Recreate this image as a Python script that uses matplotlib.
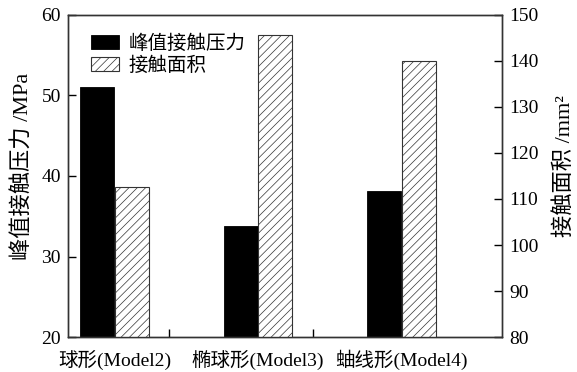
import matplotlib
matplotlib.use("Agg")
import matplotlib.pyplot as plt
import numpy as np

plt.rcParams['font.family'] = ['Liberation Serif', 'Noto Sans CJK SC']
plt.rcParams['hatch.linewidth'] = 0.5

categories = ['球形(Model2)', '椭球形(Model3)', '蚰线形(Model4)']
pressure = [51.0, 33.8, 38.1]      # MPa, left axis
area = [112.7, 145.7, 140.1]       # mm^2, right axis

fig = plt.figure(figsize=(5.77, 3.72), dpi=100)
ax = fig.add_axes([68/577, 1-337/372, (502-68)/577, (337-15)/372])
ax2 = ax.twinx()

x = np.arange(len(categories))
w = 0.235
off = 0.12
b1 = ax.bar(x - off, pressure, w, color='black', edgecolor='black', linewidth=0.6,
            label='峰值接触压力')
b2 = ax2.bar(x + off, area, w, color='white', edgecolor='#333333', linewidth=0.8,
             hatch='////', label='接触面积')

ax.set_xlim(-0.324, 2.70)
ax.set_ylim(20, 60)
ax2.set_ylim(80, 150)
ax.set_yticks([20, 30, 40, 50, 60])
ax2.set_yticks(range(80, 151, 10))
ax.set_xticks(x)
ax.set_xticklabels(categories, fontsize=14)
ax.set_xticks([0.38, 1.38], minor=True)
ax.tick_params(axis='x', which='major', length=0, pad=9)
ax.tick_params(axis='x', which='minor', direction='in', length=6, width=1)
ax.tick_params(axis='y', direction='in', length=6, width=1, labelsize=14, pad=5)
ax2.tick_params(axis='y', direction='in', length=6, width=1, labelsize=14, pad=5)

for a in (ax, ax2):
    for s in a.spines.values():
        s.set_color('#333333')
        s.set_linewidth(1.0)

ax.set_ylabel('峰值接触压力 /MPa', fontsize=16)
ax.yaxis.set_label_coords(-0.078, 0.53)
ax2.set_ylabel('接触面积 /mm²', fontsize=16)
ax2.yaxis.set_label_coords(1.122, 0.53)

ax.legend([b1, b2], ['峰值接触压力', '接触面积'], loc='upper left', frameon=False,
          fontsize=14, bbox_to_anchor=(0.034, 0.965), handlelength=1.45,
          handleheight=0.72, labelspacing=0.2, handletextpad=0.5, borderaxespad=0)

fig.savefig('out.png', dpi=100)
